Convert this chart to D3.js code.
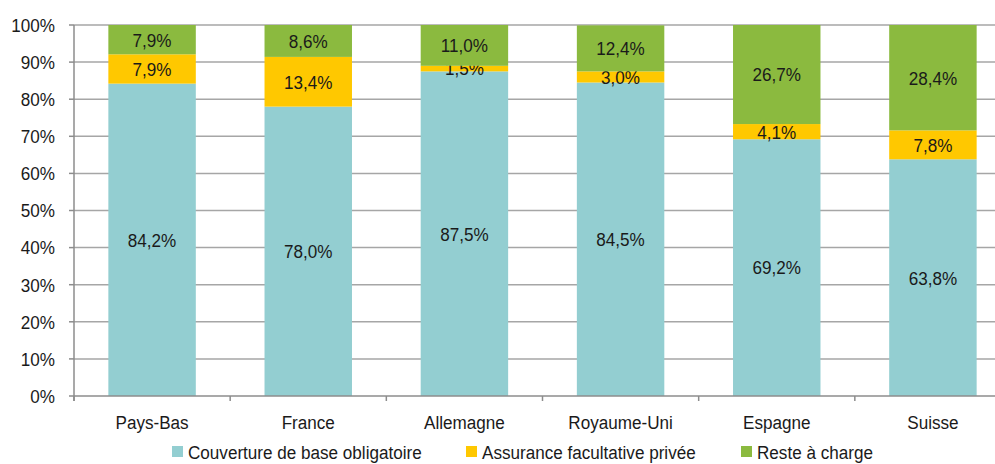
<!DOCTYPE html>
<html>
<head>
<meta charset="utf-8">
<script src="https://cdn.jsdelivr.net/npm/d3@7"></script>
<style>
  body { margin: 0; background: #fff; }
  svg text { font-family: "Liberation Sans", Arial, sans-serif; font-size: 19px; fill: #1a1a1a; }
</style>
</head>
<body>
<svg id="chart" width="995" height="464"></svg>
<script>
// Data
const countries = ['Pays-Bas', 'France', 'Allemagne', 'Royaume-Uni', 'Espagne', 'Suisse'];
const seriesNames = ['Couverture de base obligatoire', 'Assurance facultative privée', 'Reste à charge'];
const couverture = [84.2, 78.0, 87.5, 84.5, 69.2, 63.8];
const assurance = [7.9, 13.4, 1.5, 3.0, 4.1, 7.8];
const reste = [7.9, 8.6, 11.0, 12.4, 26.7, 28.4];
const yTicks = [0, 10, 20, 30, 40, 50, 60, 70, 80, 90, 100];

const colors = ['#93ced1', '#ffc800', '#8bba3f'];

// narrow look: the original uses a condensed face
const squeeze = 0.9;
const place = (x, y) => `translate(${x},${y}) scale(${squeeze},1)`;

const svg = d3.select('#chart');
const margin = { top: 25, left: 74, bottom: 396, right: 1011 };

const x = d3.scaleBand()
    .domain(countries)
    .range([margin.left, margin.right])
    .paddingInner(0.44)
    .paddingOuter(0.22);

const y = d3.scaleLinear()
    .domain([0, 100])
    .range([margin.bottom, margin.top]);

// gridlines
svg.append('g')
    .selectAll('line')
    .data(yTicks.filter(d => d > 0))
    .join('line')
    .attr('x1', margin.left)
    .attr('x2', margin.right)
    .attr('y1', d => y(d))
    .attr('y2', d => y(d))
    .attr('stroke', '#a6a6a6')
    .attr('stroke-width', 1.5);

// stacked bars
const rows = countries.map((c, i) => ({ country: c, s0: couverture[i], s1: assurance[i], s2: reste[i] }));
const stack = d3.stack().keys(['s0', 's1', 's2']);
const layers = stack(rows);

const layerG = svg.append('g')
    .selectAll('g')
    .data(layers)
    .join('g')
    .attr('fill', (d, i) => colors[i]);

layerG.selectAll('rect')
    .data(d => d)
    .join('rect')
    .attr('x', d => x(d.data.country))
    .attr('width', x.bandwidth())
    .attr('y', d => y(Math.min(d[1], 100)))
    .attr('height', d => y(d[0]) - y(Math.min(d[1], 100)));

// value labels
layerG.selectAll('text')
    .data(d => d)
    .join('text')
    .attr('transform', d => place(x(d.data.country) + x.bandwidth() / 2, y((d[0] + Math.min(d[1], 100)) / 2)))
    .attr('dy', '0.36em')
    .attr('text-anchor', 'middle')
    .attr('fill', '#1a1a1a')
    .text(d => (d[1] - d[0]).toFixed(1).replace('.', ',') + '%');

// y axis
const yAxis = svg.append('g');
yAxis.append('line')
    .attr('x1', margin.left).attr('x2', margin.left)
    .attr('y1', margin.top).attr('y2', margin.bottom + 5)
    .attr('stroke', '#8c8c8c').attr('stroke-width', 1.5);
yAxis.selectAll('.tick')
    .data(yTicks)
    .join('line')
    .attr('x1', margin.left - 5).attr('x2', margin.left)
    .attr('y1', d => y(d)).attr('y2', d => y(d))
    .attr('stroke', '#8c8c8c').attr('stroke-width', 1.5);
yAxis.selectAll('text')
    .data(yTicks)
    .join('text')
    .attr('transform', d => place(55, y(d)))
    .attr('dy', '0.36em')
    .attr('text-anchor', 'end')
    .text(d => d + '%');

// x axis
const xAxis = svg.append('g');
xAxis.append('line')
    .attr('x1', margin.left).attr('x2', margin.right)
    .attr('y1', margin.bottom).attr('y2', margin.bottom)
    .attr('stroke', '#8c8c8c').attr('stroke-width', 1.5);
const step = x.step();
xAxis.selectAll('.tick')
    .data(countries)
    .join('line')
    .attr('x1', d => x(d) - x.paddingInner() * step / 2)
    .attr('x2', d => x(d) - x.paddingInner() * step / 2)
    .attr('y1', margin.bottom).attr('y2', margin.bottom + 5)
    .attr('stroke', '#8c8c8c').attr('stroke-width', 1.5);
xAxis.selectAll('text')
    .data(countries)
    .join('text')
    .attr('transform', d => place(x(d) + x.bandwidth() / 2, 429))
    .attr('text-anchor', 'middle')
    .text(d => d);

// legend
const legendX = [172, 466, 741];
const legend = svg.append('g')
    .selectAll('g')
    .data(seriesNames)
    .join('g')
    .attr('transform', (d, i) => `translate(${legendX[i]}, 446)`);
legend.append('rect')
    .attr('width', 11).attr('height', 11)
    .attr('fill', (d, i) => colors[i]);
legend.append('text')
    .attr('transform', place(16, 13))
    .text(d => d);
</script>
</body>
</html>
